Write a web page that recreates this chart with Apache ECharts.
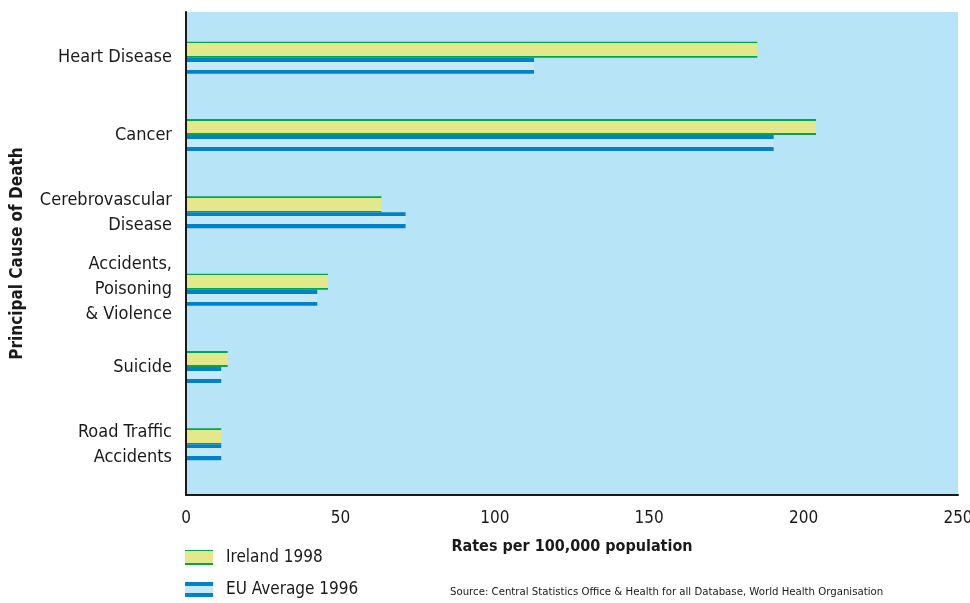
<!DOCTYPE html>
<html>
<head>
<meta charset="utf-8">
<script src="https://cdn.jsdelivr.net/npm/echarts@6/dist/echarts.min.js"></script>
<style>
  html, body { margin: 0; padding: 0; background: #fff; }
  #chart { width: 970px; height: 603px; }
</style>
</head>
<body>
<div id="chart"></div>
<script>
const categories = ['Heart Disease', 'Cancer', 'Cerebrovascular\nDisease', 'Accidents,\nPoisoning\n& Violence', 'Suicide', 'Road Traffic\nAccidents'];
const ireland1998 = [185, 204, 63.3, 46, 13.5, 11.4];
const euAverage1996 = [112.7, 190.3, 71.1, 42.5, 11.4, 11.4];

const font = '"DejaVu Sans Condensed", "Liberation Sans Narrow", sans-serif';

// flat fills with hard stops give the striped bar look of the original
const stripes = (edge, fill, t) => ({
  type: 'linear', x: 0, y: 0, x2: 0, y2: 1,
  colorStops: [
    { offset: 0, color: edge }, { offset: t, color: edge },
    { offset: t, color: fill }, { offset: 1 - t, color: fill },
    { offset: 1 - t, color: edge }, { offset: 1, color: edge }
  ]
});

const chart = echarts.init(document.getElementById('chart'));
chart.setOption({
  animation: false,
  textStyle: { fontFamily: font },
  title: {
    text: 'Source: Central Statistics Office & Health for all Database, World Health Organisation',
    left: 450,
    top: 587,
    padding: 0,
    textStyle: { fontFamily: font, fontSize: 11.3, fontWeight: 'normal', color: '#1a1a1a' }
  },
  legend: {
    orient: 'vertical',
    left: 185,
    top: 549,
    padding: 0,
    icon: 'rect',
    itemWidth: 28,
    itemHeight: 15,
    itemGap: 15,
    textStyle: { fontFamily: font, fontSize: 17, color: '#1a1a1a', padding: [0, 0, 0, 8] },
    data: ['Ireland 1998', 'EU Average 1996']
  },
  grid: [
    { left: 186, right: 12, top: 12, bottom: 108, outerBoundsMode: 'none', show: true, backgroundColor: '#b8e4f8', borderWidth: 0 },
    { left: 186, right: 12, top: 19, bottom: 120, outerBoundsMode: 'none' }
  ],
  xAxis: [
    {
      gridIndex: 0,
      type: 'value',
      min: 0,
      max: 250,
      interval: 50,
      name: 'Rates per 100,000 population',
      nameLocation: 'middle',
      nameGap: 44,
      nameTextStyle: { fontFamily: font, fontSize: 16, fontWeight: 'bold', color: '#1a1a1a' },
      axisLine: { show: true, lineStyle: { color: '#1a1a1a', width: 2 } },
      axisTick: { show: false },
      splitLine: { show: false },
      axisLabel: { margin: 15, fontFamily: font, fontSize: 17, color: '#1a1a1a' },
      z: 10
    },
    { gridIndex: 1, type: 'value', min: 0, max: 250, show: false }
  ],
  yAxis: [
    {
      gridIndex: 0,
      type: 'value',
      min: 0,
      max: 1,
      name: 'Principal Cause of Death',
      nameLocation: 'middle',
      nameRotate: 90,
      nameGap: 160,
      nameTextStyle: { fontFamily: font, fontSize: 17, fontWeight: 'bold', color: '#1a1a1a' },
      axisLine: { show: true, lineStyle: { color: '#1a1a1a', width: 2 } },
      axisTick: { show: false },
      axisLabel: { show: false },
      splitLine: { show: false },
      z: 10
    },
    {
      gridIndex: 1,
      type: 'category',
      inverse: true,
      data: categories,
      axisLine: { show: false },
      axisTick: { show: false },
      axisLabel: { margin: 14, fontFamily: font, fontSize: 18, lineHeight: 25, color: '#1a1a1a', align: 'right' }
    }
  ],
  series: [
    {
      name: 'Ireland 1998',
      type: 'bar',
      xAxisIndex: 1,
      yAxisIndex: 1,
      barWidth: 16,
      barGap: 0,
      itemStyle: { color: stripes('#00a651', '#e3e88a', 0.1) },
      data: ireland1998
    },
    {
      name: 'EU Average 1996',
      type: 'bar',
      xAxisIndex: 1,
      yAxisIndex: 1,
      barWidth: 16,
      barGap: 0,
      itemStyle: { color: stripes('#0081c9', '#c6e9f7', 0.26) },
      data: euAverage1996
    }
  ]
});
</script>
</body>
</html>
